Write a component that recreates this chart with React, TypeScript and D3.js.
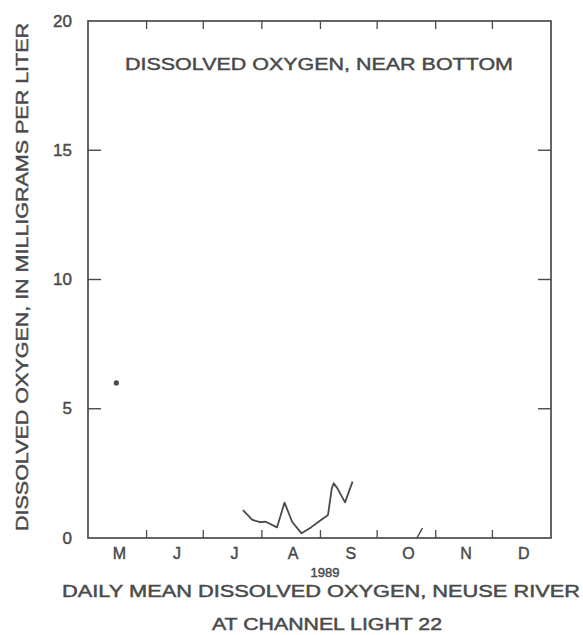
import React from "react";
import * as d3 from "d3";

const W = 583;
const H = 635;

const yTicks = [0, 5, 10, 15, 20];
const monthLabels = ["M", "J", "J", "A", "S", "O", "N", "D"];

// Single isolated observation
const dotDates = ["1989-05-16"];
const dotValues = [6.0];

// Main continuous segment (Jul - Sep)
const seg1Dates = [
  "1989-07-22", "1989-07-27", "1989-07-31", "1989-08-03", "1989-08-09",
  "1989-08-13", "1989-08-17", "1989-08-22", "1989-08-27", "1989-08-31",
  "1989-09-05", "1989-09-07", "1989-09-08", "1989-09-10", "1989-09-14",
  "1989-09-18",
];
const seg1Values = [
  1.08, 0.7, 0.61, 0.63, 0.41,
  1.37, 0.63, 0.18, 0.41, 0.63,
  0.89, 1.92, 2.12, 1.92, 1.38,
  2.18,
];

// Short segment in October
const seg2Dates = ["1989-10-22", "1989-10-25"];
const seg2Values = [0.0, 0.38];

const parse = d3.timeParse("%Y-%m-%d");

export default function App() {
  const left = 88, right = 551, top = 21, bottom = 538;
  const x = d3
    .scaleTime()
    .domain([new Date(1989, 4, 1), new Date(1990, 0, 1)])
    .range([left, right]);
  const y = d3.scaleLinear().domain([0, 20]).range([bottom, top]);

  const monthStarts = d3.timeMonth.range(new Date(1989, 5, 1), new Date(1990, 0, 1));
  const monthAll = d3.timeMonth.range(new Date(1989, 4, 1), new Date(1990, 0, 1));
  const midMonth = (d: Date) =>
    new Date((d.getTime() + d3.timeMonth.offset(d, 1).getTime()) / 2);

  const line = d3
    .line<[Date, number]>()
    .x((d) => x(d[0]))
    .y((d) => y(d[1]));

  const seg1: [Date, number][] = seg1Dates.map((d, i) => [parse(d)!, seg1Values[i]]);
  const seg2: [Date, number][] = seg2Dates.map((d, i) => [parse(d)!, seg2Values[i]]);

  const ink = "#4a4a4a";
  const font = "'Liberation Sans', Arial, Helvetica, sans-serif";
  const textStroke = { stroke: ink, strokeWidth: 0.45 };

  return (
    <svg
      width={W}
      height={H}
      style={{ position: "absolute", left: 0, top: 0, background: "#fff" }}
      fontFamily={font}
    >
      <rect x={0} y={0} width={W} height={H} fill="#fff" />
      {/* frame */}
      <rect
        x={left}
        y={top}
        width={right - left}
        height={bottom - top}
        fill="none"
        stroke={ink}
        strokeWidth={1.7}
      />
      {/* y ticks */}
      {yTicks.map((t) => (
        <g key={"yt" + t}>
          {t > 0 && t < 20 && (
            <>
              <line x1={left} x2={left + 13} y1={y(t)} y2={y(t)} stroke={ink} strokeWidth={1.4} />
              <line x1={right} x2={right - 13} y1={y(t)} y2={y(t)} stroke={ink} strokeWidth={1.4} />
            </>
          )}
          <text
            x={left - 16}
            y={y(t)}
            textAnchor="end"
            dominantBaseline="central"
            fontSize={17}
            fill={ink}
            {...textStroke}
          >
            {t}
          </text>
        </g>
      ))}
      {/* x ticks */}
      {monthStarts.map((d, i) => (
        <g key={"xt" + i}>
          <line x1={x(d)} x2={x(d)} y1={bottom} y2={bottom - 8} stroke={ink} strokeWidth={1.3} />
          <line x1={x(d)} x2={x(d)} y1={top} y2={top + 8} stroke={ink} strokeWidth={1.3} />
        </g>
      ))}
      {monthAll.map((d, i) => (
        <text
          key={"ml" + i}
          x={x(midMonth(d)) + 2}
          y={553}
          textAnchor="middle"
          dominantBaseline="central"
          fontSize={16}
          fill={ink}
          {...textStroke}
        >
          {monthLabels[i]}
        </text>
      ))}
      {/* data */}
      <path d={line(seg1) || ""} fill="none" stroke={ink} strokeWidth={1.8} strokeLinejoin="round" />
      <path d={line(seg2) || ""} fill="none" stroke={ink} strokeWidth={1.5} />
      {dotDates.map((d, i) => (
        <circle key={"dot" + i} cx={x(parse(d)!)} cy={y(dotValues[i])} r={2.6} fill={ink} />
      ))}
      {/* inner title */}
      <text
        x={319}
        y={70}
        textAnchor="middle"
        fontSize={17}
        fill={ink}
        textLength={388}
        lengthAdjust="spacingAndGlyphs"
        {...textStroke}
      >
        DISSOLVED OXYGEN, NEAR BOTTOM
      </text>
      {/* y axis title */}
      <text
        transform={`translate(28, 277) rotate(-90)`}
        textAnchor="middle"
        fontSize={17}
        fill={ink}
        textLength={508}
        lengthAdjust="spacingAndGlyphs"
        {...textStroke}
      >
        DISSOLVED OXYGEN, IN MILLIGRAMS PER LITER
      </text>
      {/* caption */}
      <text x={325} y={577} textAnchor="middle" fontSize={13} fill={ink} {...textStroke}>
        1989
      </text>
      <text
        x={321}
        y={597}
        textAnchor="middle"
        fontSize={16}
        fill={ink}
        textLength={518}
        lengthAdjust="spacingAndGlyphs"
        {...textStroke}
      >
        DAILY MEAN DISSOLVED OXYGEN, NEUSE RIVER
      </text>
      <text
        x={327}
        y={630}
        textAnchor="middle"
        fontSize={16}
        fill={ink}
        textLength={230}
        lengthAdjust="spacingAndGlyphs"
        {...textStroke}
      >
        AT CHANNEL LIGHT 22
      </text>
    </svg>
  );
}
